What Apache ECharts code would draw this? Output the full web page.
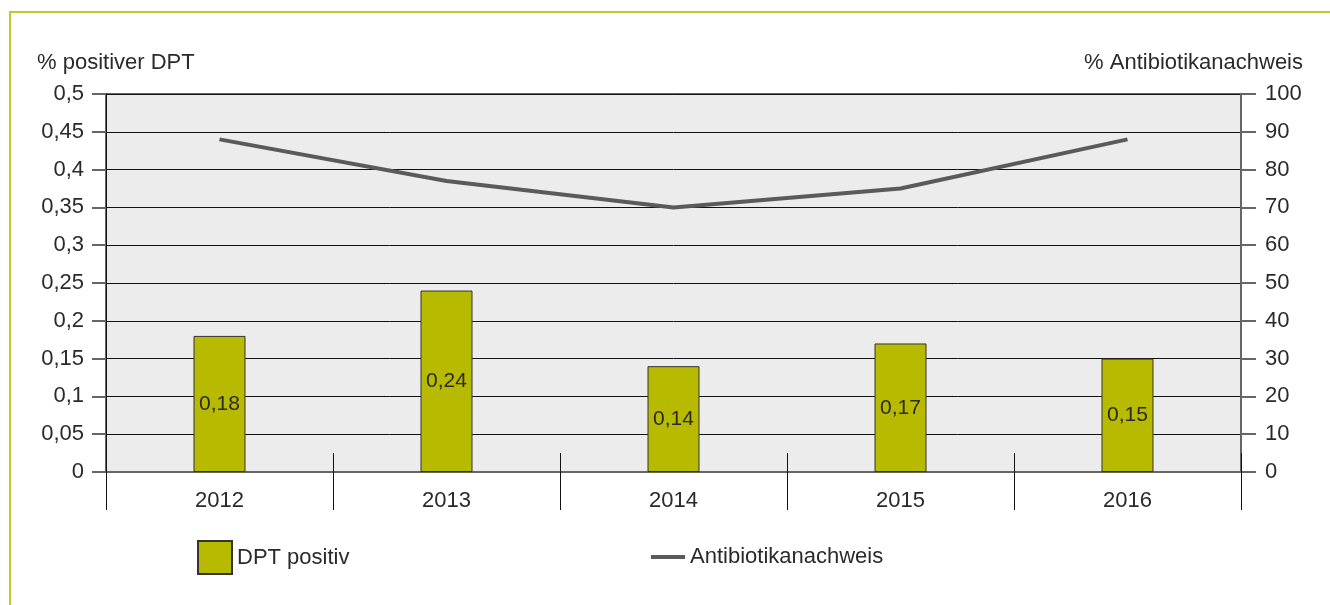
<!DOCTYPE html>
<html>
<head>
<meta charset="utf-8">
<script src="https://cdn.jsdelivr.net/npm/echarts@6/dist/echarts.min.js"></script>
<style>
  html, body { margin: 0; padding: 0; background: #fff; }
  #frame { position: absolute; left: 9px; top: 11px; width: 1330px; height: 600px;
           border-left: 2px solid #c3c82e; border-top: 2px solid #c3c82e; }
  #chart { width: 1330px; height: 605px; position: absolute; left: 0; top: 0; }
</style>
</head>
<body>
<div id="frame"></div>
<div id="chart"></div>
<script>
const years = ["2012", "2013", "2014", "2015", "2016"];
const dptPositiv = [0.18, 0.24, 0.14, 0.17, 0.15];
const antibiotika = [88, 77, 70, 75, 88];

const font = "Liberation Sans";
const txt = "#2a2a2a";
const fs = 22;
const fmt = (v) => String(v).replace(".", ",");

const myChart = echarts.init(document.getElementById("chart"));
const option = {
  animation: false,
  textStyle: { fontFamily: font },
  title: [
    {
      text: "% positiver DPT",
      left: 32, top: 47,
      textStyle: { fontFamily: font, fontSize: fs, fontWeight: "normal", color: txt },
    },
    {
      text: "% Antibiotikanachweis",
      right: 22, top: 47,
      textStyle: { fontFamily: font, fontSize: fs, fontWeight: "normal", color: txt },
    },
  ],
  grid: {
    left: 106, right: 89, top: 94, bottom: 133,
    show: true, backgroundColor: "#ececec", borderColor: "#666", borderWidth: 2,
  },
  legend: [
    {
      data: [{ name: "DPT positiv", icon: "rect" }], left: 192, top: 535,
      itemWidth: 34, itemHeight: 33, itemGap: 8,
      textStyle: { fontFamily: font, fontSize: fs, color: txt },
    },
    {
      data: [{ name: "Antibiotikanachweis", icon: "rect" }], left: 646, top: 541,
      itemWidth: 34, itemHeight: 4,
      textStyle: { fontFamily: font, fontSize: fs, color: txt },
    },
  ],
  xAxis: [
    {
      type: "category", data: years, position: "bottom",
      axisLine: { lineStyle: { color: "#666", width: 2 } },
      axisTick: { show: true, length: 38, lineStyle: { color: "#111", width: 1 } },
      axisLabel: { margin: 18, fontSize: fs, color: txt },
    },
    {
      type: "category", data: years, position: "bottom",
      axisLine: { show: false },
      axisTick: { show: true, inside: true, length: 19, lineStyle: { color: "#111", width: 1 } },
      axisLabel: { show: false },
    },
  ],
  yAxis: [
    {
      type: "value", min: 0, max: 0.5, interval: 0.05, position: "left",
      axisLine: { show: true, lineStyle: { color: "#111", width: 1 } },
      axisTick: { show: true, length: 14, lineStyle: { color: "#666", width: 2 } },
      axisLabel: {
        margin: 22, fontSize: fs, color: txt,
        formatter: (v) => fmt(+v.toFixed(2)),
      },
      splitLine: { show: true, lineStyle: { color: "#111", width: 1 } },
    },
    {
      type: "value", min: 0, max: 100, interval: 10, position: "right",
      axisLine: { show: true, lineStyle: { color: "#666", width: 2 } },
      axisTick: { show: true, length: 15, lineStyle: { color: "#666", width: 2 } },
      axisLabel: { margin: 24, fontSize: fs, color: txt },
      splitLine: { show: false },
    },
  ],
  series: [
    {
      name: "DPT positiv", type: "bar", data: dptPositiv,
      xAxisIndex: 0, yAxisIndex: 0, barWidth: 52,
      itemStyle: { color: "#b8ba00", borderColor: "#333", borderWidth: 1 },
      label: {
        show: true, position: "inside", fontSize: 21, color: txt,
        formatter: (p) => fmt(p.value),
      },
      z: 3,
    },
    {
      name: "Antibiotikanachweis", type: "line", data: antibiotika,
      xAxisIndex: 0, yAxisIndex: 1, showSymbol: false, symbol: "none",
      lineStyle: { color: "#5a5a5a", width: 4 },
      itemStyle: { color: "#5a5a5a" },
      z: 4,
    },
  ],
};
myChart.setOption(option);
window.addEventListener("resize", () => {
  myChart.resize();
});
</script>
</body>
</html>
